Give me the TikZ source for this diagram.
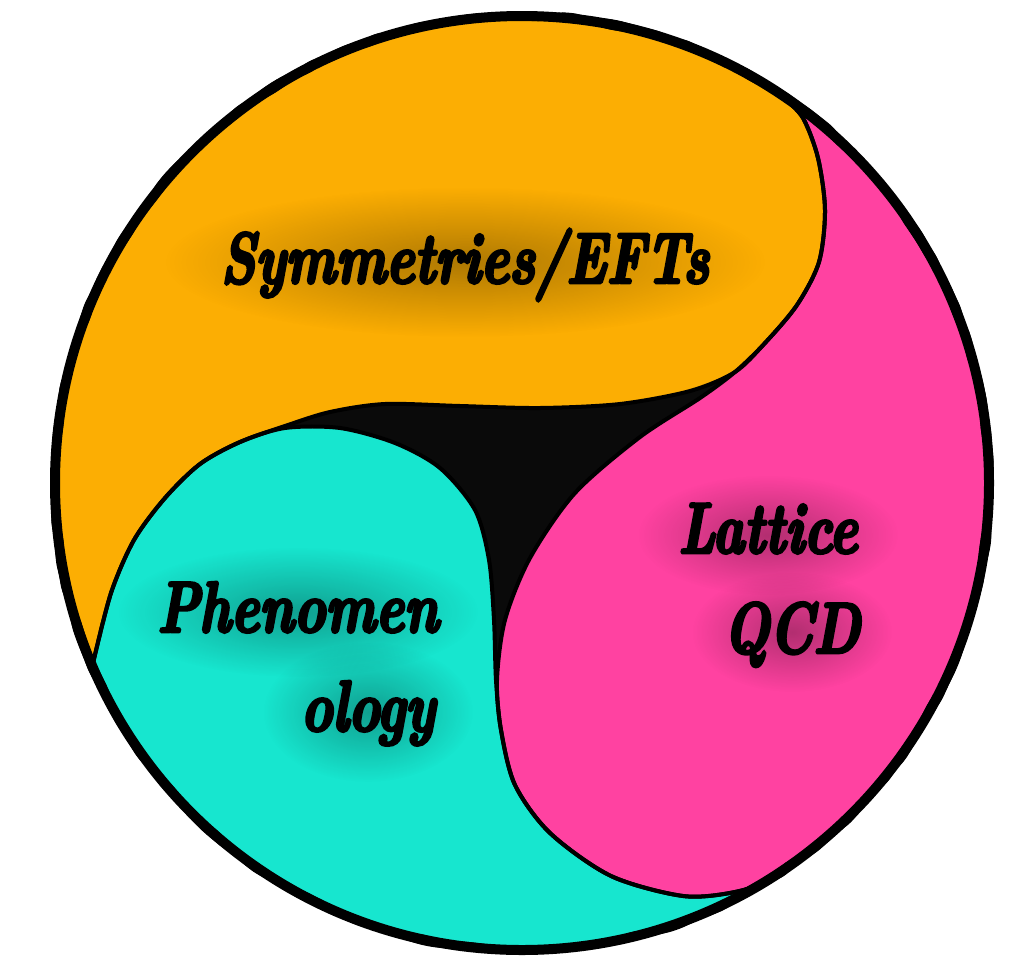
\documentclass[tikz,border=0pt]{standalone}
\usepackage{fontspec}
\newfontfamily\lblfont{lmroman10-bolditalic.otf}[FakeStretch=0.74, FakeBold=4]
\usetikzlibrary{fadings,decorations.pathmorphing}
\definecolor{cOrange}{RGB}{252,174,3}
\definecolor{cPink}{RGB}{255,66,161}
\definecolor{cTeal}{RGB}{23,230,207}
\definecolor{cCore}{RGB}{10,10,10}
\tikzfading[name=glowfade, inner color=transparent!0, outer color=transparent!100]
\tikzset{
  lbl/.style={font=\lblfont\fontsize{72}{76}\selectfont, text=black, inner sep=0pt, anchor=base},
  edge/.style={draw=black, line width=4pt, line join=round},
  rim/.style={draw=black, line width=10pt},
  rough/.style={draw=black, line width=2pt, decorate, decoration={random steps, segment length=14pt, amplitude=1.6pt}, rounded corners=5pt},
  glow/.style={fill=black, fill opacity=0.3, path fading=glowfade}
}
\pgfmathsetseed{7}
\def\orangepath{(A) arc[start angle=157.1, end angle=304.1, radius=466]
  -- plot[smooth] coordinates {(B) (803,118) (818,158) (825,210) (819,262) (797,305) (765,343) (735,372) (690,391) (620,404) (540,408) (460,406) (385,404) (330,412) (285,426) (240,442) (200,464) (165,498) (134,540) (111,593) (A)} -- cycle}
\def\tealpath{(C) arc[start angle=52.4, end angle=157.1, radius=466]
  -- plot[smooth] coordinates {(A) (111,593) (134,540) (165,498) (200,464) (240,442) (285,428) (340,428) (395,443) (440,468) (475,510) (489,560) (494,620) (496,680) (501,730) (515,785) (550,833) (611,876) (683,896) (735,892) (775,878) (C)} -- cycle}
\def\pinkpath{(B) arc[start angle=-55.9, end angle=52.4, radius=466]
  -- plot[smooth] coordinates {(C) (775,878) (735,892) (683,896) (611,876) (550,833) (515,785) (501,730) (497,680) (505,620) (530,558) (575,493) (640,437) (700,398) (735,372) (765,343) (797,305) (819,262) (825,210) (818,158) (803,118) (B)} -- cycle}
\begin{document}
\begin{tikzpicture}[x=1pt, y=-1pt]
\useasboundingbox (0,0) rectangle (1020,956);
\coordinate (O) at (522,483);
\path (O) ++(157.1:466) coordinate (A);
\path (O) ++(-55.9:466) coordinate (B);
\path (O) ++(52.4:466) coordinate (C);
% core
\fill[cCore] (O) circle[radius=466];
% region fills
\fill[cOrange] \orangepath;
\fill[cTeal] \tealpath;
\fill[cPink] \pinkpath;
% region outlines
\path[edge] \orangepath;
\path[edge] \tealpath;
\path[edge] \pinkpath;
% glows
\begin{scope}
\clip (O) circle[radius=462];
\fill[glow] (465,262) ellipse[x radius=300, y radius=75];
\fill[glow] (298,612) ellipse[x radius=180, y radius=65];
\fill[glow] (368,712) ellipse[x radius=105, y radius=70];
\fill[glow] (768,535) ellipse[x radius=130, y radius=60];
\fill[glow] (792,632) ellipse[x radius=100, y radius=60];
\end{scope}
% rim
\draw[rim] (O) circle[radius=467];
\draw[rough] (O) circle[radius=470];
\draw[rough] (O) circle[radius=464];
% labels
\node[lbl] (sym) at (465,283) {Symmetries/EFTs};
\node[lbl] (phen) at (298,632) {Phenomen};
\node[lbl] (olo) at (368,731) {ology};
\node[lbl] (lat) at (768,553) {Lattice};
\node[lbl] (qcd) at (792,653) {QCD};
\end{tikzpicture}
\end{document}
